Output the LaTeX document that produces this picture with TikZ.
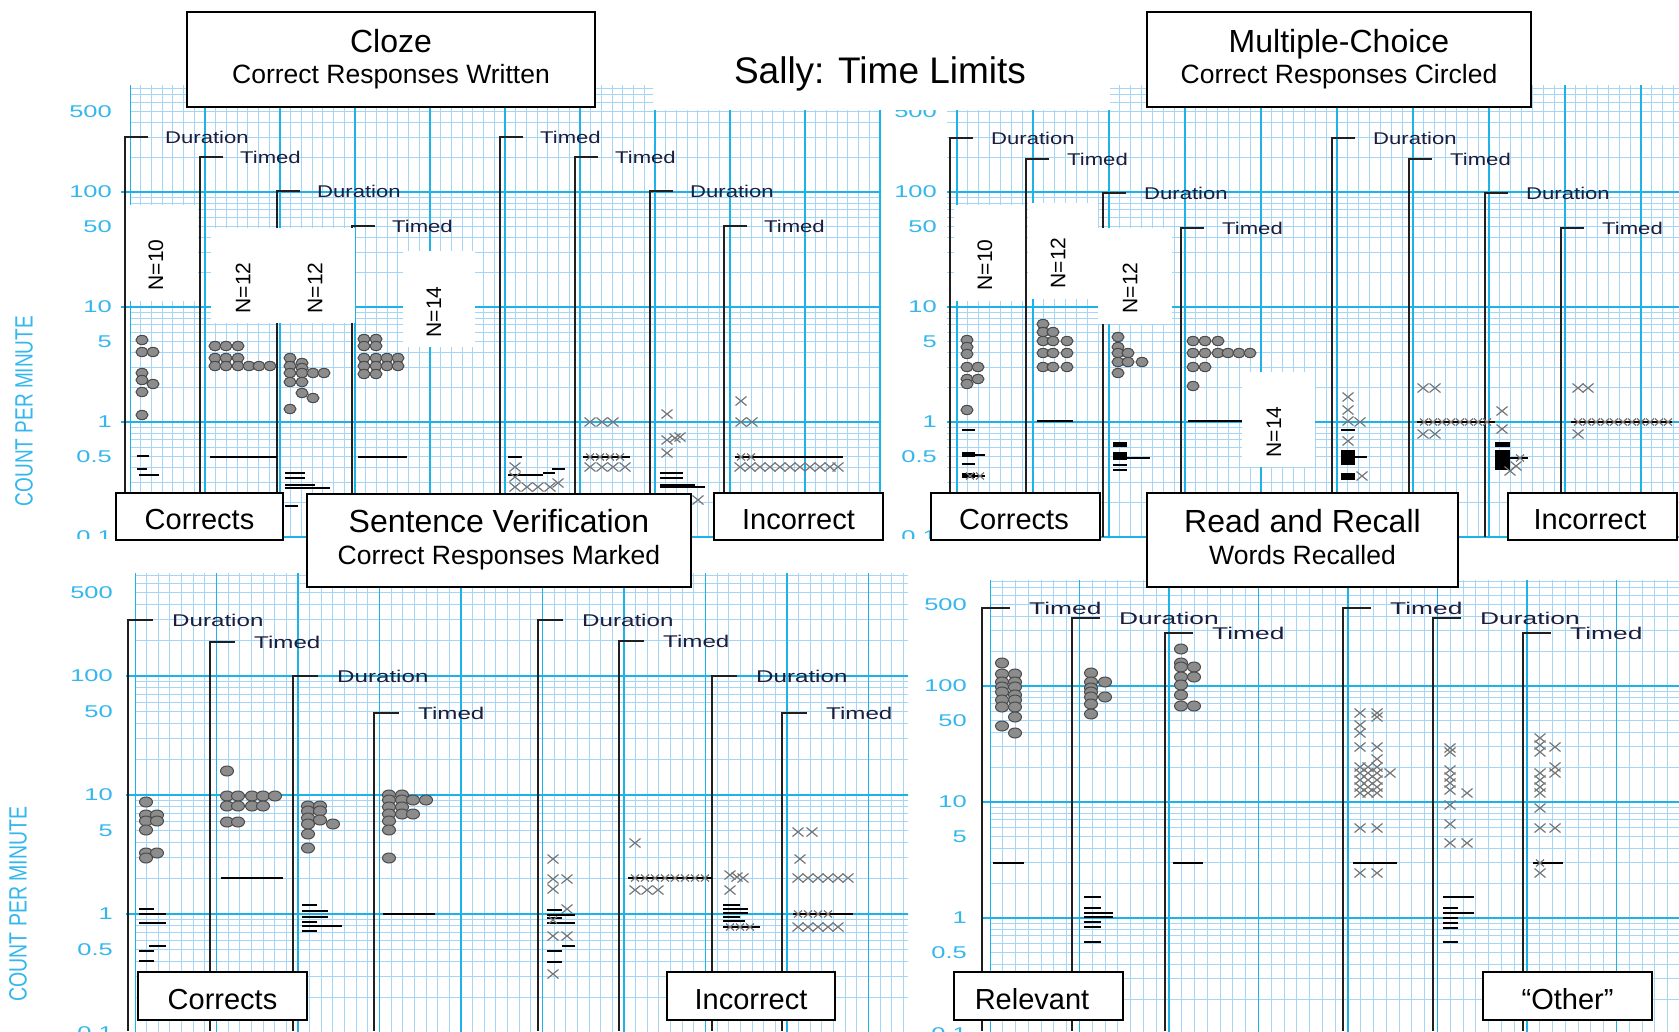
\documentclass[tikz,border=0pt]{standalone}
\usepackage{fontspec}
\setmainfont{Liberation Sans}
\definecolor{gridminor}{HTML}{A6D6F5}
\definecolor{gridmajor}{HTML}{1DB3E8}
\definecolor{axcyan}{HTML}{33B7EC}
\definecolor{labelink}{HTML}{1D1D3D}
\definecolor{dotgrey}{HTML}{8C8C8C}
\definecolor{dotedge}{HTML}{4A4A4A}
\definecolor{crossgrey}{HTML}{777777}
\newcommand\fsz[1]{\fontsize{#1pt}{#1pt}\selectfont}
\newcommand\loggrid[5]{%
 \begin{scope}
  \clip #1;
  \foreach \i in {-7,...,77} {
    \pgfmathsetmacro\xx{#2+\i*#3/7}
    \draw[minorline] (\xx,0) -- (\xx,1040);
  }
  \foreach \d in {-2,...,2} {
    \foreach \k in {2,...,9} {
      \pgfmathsetmacro\yy{#4-#5*(\d+log10(\k))}
      \draw[minorline] (0,\yy) -- (1690,\yy);
    }
  }
  \foreach \i in {-1,...,11} {
    \pgfmathsetmacro\xx{#2+\i*#3}
    \draw[majorline] (\xx,0) -- (\xx,1040);
  }
  \foreach \d in {-2,...,3} {
    \pgfmathsetmacro\yy{#4-#5*\d}
    \draw[majorline] (0,\yy) -- (1690,\yy);
  }
 \end{scope}}
\newcommand\axlabels[5]{% #1 x right, #2 y of 1, #3 decade, #4 prefix, #5 grid left
 \foreach \v/\l [count=\c] in {2.699/500,2/100,1.699/50,1/10,0.699/5,0/1,-0.301/0.5,-1/0.1}{
   \node[axl] (#4\c) at (#1,{#2-#3*(\v)}) {\scalebox{1.5}[1]{\l}};
 }
 \foreach \d in {-1,...,2} {
   \draw[majorline] ({#5-9},{#2-#3*\d}) -- (#5,{#2-#3*\d});
 }}
\newcommand\brackets[6]{% #1 list, #2 ybot, #3 tick, #4 offset, #5 scale, #6 prefix
 \foreach \bx/\by/\bl [count=\c] in {#1} {
   \draw[brk] ({\bx+#3},\by) -- (\bx,\by) -- (\bx,#2);
   \node[lbl, anchor=base west] (#6\c) at ({\bx+#4},{\by+6}) {\scalebox{#5}[1]{\bl}};
 }}
\newcommand\mycirc[2]{\foreach \x/\y in {#2} {\draw[circ] (\x,\y) ellipse [x radius=#1pt, y radius=#1pt*0.77];}}
\newcommand\mycross[1]{\foreach \x/\y in {#1} {\draw[crs] (\x,\y) ++(-5.5,-4.5) -- ++(11,9) ++(0,-9) -- ++(-11,9);}}
\newcommand\mysmall[1]{\foreach \x/\y in {#1} {\draw[crs] (\x,\y) ++(-4,-3.5) -- ++(8,7) ++(0,-7) -- ++(-8,7);}}
\newcommand\mydash[1]{\foreach \a/\b/\y in {#1} {\draw[bar] (\a,\y) -- (\b,\y);}}
\newcommand\myblock[1]{\foreach \a/\b/\cc/\dd in {#1} {\fill[black] (\a,\b) rectangle (\cc,\dd);}}
\begin{document}
\begin{tikzpicture}[x=1pt,y=-1pt,
  minorline/.style={draw=gridminor, line width=1pt},
  majorline/.style={draw=gridmajor, line width=1.8pt},
  brk/.style={draw=black!88, line width=1.8pt},
  lbl/.style={font=\fsz{17}, text=labelink, inner sep=0pt},
  axl/.style={font=\fsz{17}, text=axcyan, anchor=east, inner sep=0pt},
  circ/.style={fill=dotgrey, draw=dotedge, line width=1pt},
  crs/.style={draw=crossgrey, line width=1.2pt},
  bar/.style={draw=black, line width=2.4pt},
  tbox/.style={draw=black, line width=1.8pt, fill=white, inner sep=0pt},
  nbox/.style={fill=white, inner sep=0pt},
  nlbl/.style={font=\fsz{21}, rotate=90, inner sep=0pt},
  ylab/.style={font=\fsz{25}, text=axcyan, rotate=90, inner sep=0pt},
  boxtxt/.style={font=\fsz{29}, inner sep=0pt, anchor=base},
  ttl/.style={font=\fsz{32}, inner sep=0pt, anchor=base},
  subttl/.style={font=\fsz{26.5}, inner sep=0pt, anchor=base}]
\useasboundingbox (0,0) rectangle (1679,1031);
\fill[white] (0,0) rectangle (1679,1031);

% ---------- grids ----------
\loggrid{(130,85) -- (653,85) -- (653,110) -- (881,110) -- (881,538) -- (130,538) -- cycle}{130}{75}{422}{115}
\loggrid{(947,110) -- (1110,110) -- (1110,85) -- (1679,85) -- (1679,538) -- (947,538) -- cycle}{957}{76}{422}{115}
\loggrid{(135,573) rectangle (908,1031)}{135}{81.5}{914}{119}
\loggrid{(990,580) rectangle (1679,1031)}{990}{89.5}{918}{116}

% ---------- axis labels ----------
\begin{scope}
 \clip (0,90) rectangle (131,538);
 \axlabels{112}{422}{115}{axa}{130}
\end{scope}
\begin{scope}
 \clip (882,110) rectangle (957,538);
 \axlabels{937}{422}{115}{axb}{957}
\end{scope}
\axlabels{113}{914}{119}{axc}{135}
\axlabels{967}{918}{116}{axd}{990}
\node[ylab] (yl1) at (24,411) {\scalebox{0.76}[1]{COUNT PER MINUTE}};
\node[ylab] (yl2) at (18,904) {\scalebox{0.78}[1]{COUNT PER MINUTE}};

% ---------- brackets ----------
\brackets{125/137/Duration,200/157/Timed,277/191/Duration,352/226/Timed,500/137/Timed,575/157/Timed,650/191/Duration,724/226/Timed}{537}{23}{40}{1.3}{bra}
\brackets{950/138/Duration,1026/159/Timed,1103/193/Duration,1181/228/Timed,1332/138/Duration,1409/159/Timed,1485/193/Duration,1561/228/Timed}{537}{23}{41}{1.3}{brb}
\brackets{128/620/Duration,210/642/Timed,293/676/Duration,374/713/Timed,538/620/Duration,619/641/Timed,712/676/Duration,782/713/Timed}{1031}{25}{44}{1.42}{brc}
\brackets{982/608/Timed,1072/618/Duration,1165/633/Timed,1343/608/Timed,1433/618/Duration,1523/633/Timed}{1031}{28}{47}{1.55}{brd}

% ---------- N boxes ----------
\fill[white] (127,205) rectangle (198,301);
\fill[white] (211,228) rectangle (355,323);
\fill[white] (403,251) rectangle (475,347);
\fill[white] (954,205) rectangle (1025,301);
\fill[white] (1028,203) rectangle (1098,299);
\fill[white] (1098,228) rectangle (1172,324);
\fill[white] (1242,372) rectangle (1315,467);
\node[nlbl] (n1) at (156,265) {N=10};
\node[nlbl] (n2) at (243,288) {N=12};
\node[nlbl] (n3) at (315,288) {N=12};
\node[nlbl] (n4) at (434,312) {N=14};
\node[nlbl] (n5) at (985,265) {N=10};
\node[nlbl] (n6) at (1058,263) {N=12};
\node[nlbl] (n7) at (1130,288) {N=12};
\node[nlbl] (n8) at (1274,432) {N=14};

% ---------- data: top left ----------
\mycirc{6}{142/340,142/352,153/352,142/373,142/380,153/384,142/392,142/415,
215/346,226/346,238/346,215/358,226/358,238/358,215/366,226/366,238/366,249/366,259/366,270/366,
290/358,302/363,290/366,302/368,290/373,302/373,313/373,324/373,290/382,302/382,302/393,313/398,290/409,
364/339,376/339,364/346,376/346,364/358,376/358,387/358,398/358,364/366,376/366,387/366,398/366,364/374,376/374}
\mydash{137/149/456,137/147/469,139/159/475,210/277/457,
285/305/473,285/305/478,285/315/485,285/330/488,285/298/506,
358/407/457,508/522/457,508/543/475,543/555/473,552/565/469,
660/683/473,660/683/478,660/695/485,660/705/487,583/630/457,735/843/457}
\mycross{515/467,515/477,515/487,527/487,538/487,550/487,558/483,
590/422,602/422,613/422,590/467,602/467,613/467,625/467,
667/414,667/440,675/438,680/437,667/453,698/500,
741/401,741/422,752/422,740/467,750/467,760/467,770/467,780/467,790/467,800/467,810/467,820/467,830/467,838/467}
\mysmall{590/457,600/457,610/457,620/457,741/457,751/457}

% ---------- data: top right ----------
\mycirc{6}{967/340,967/347,967/354,967/367,978/367,967/379,978/379,967/384,967/410,
1043/324,1043/332,1053/332,1043/341,1053/341,1067/341,1043/353,1053/353,1067/353,1043/367,1053/367,1067/367,
1118/337,1118/347,1118/353,1128/353,1118/362,1128/362,1142/362,1118/373,
1193/341,1205/341,1218/341,1193/353,1205/353,1218/353,1228/353,1239/353,1250/353,1193/367,1205/367,1193/386}
\mydash{962/975/430,962/985/455,962/975/464,962/985/476,1037/1073/421,1127/1150/458,1113/1127/465,1113/1127/470,
1188/1242/421,1341/1355/430,1355/1367/457,1417/1495/422,1510/1528/458,1571/1672/422}
\myblock{962/452/975/457,962/473/975/478,1113/442/1127/447,1113/452/1127/460,1341/450/1355/465,1341/473/1355/480,1495/442/1510/447,1495/450/1510/470}
\mycross{1348/397,1348/410,1348/421,1360/422,1348/441,1362/476,1423/388,1435/388,1423/434,1435/434,
1502/411,1502/429,1516/466,1510/471,1578/388,1588/388,1578/434}
\mysmall{1424/422,1433/422,1442/422,1451/422,1460/422,1469/422,1478/422,1487/422,
1578/422,1587/422,1596/422,1605/422,1614/422,1623/422,1632/422,1641/422,1650/422,1659/422,1668/422,970/476,980/476,1520/458}

% ---------- data: bottom left ----------
\mycirc{6.5}{146/802,146/815,157/815,146/821,157/821,146/830,146/853,157/853,146/858,
227/771,227/796,238/796,252/796,263/796,275/796,227/806,238/806,252/806,263/806,227/822,238/822,
308/806,320/806,308/811,320/811,308/818,320/820,333/824,308/824,308/834,308/848,
389/795,402/795,389/800,402/800,413/800,426/800,389/807,402/807,389/814,402/814,413/814,389/821,389/830,389/858}
\mydash{139/154/909,139/166/914,139/166/923,149/166/946,139/154/951,139/154/961,221/283/878,
302/317/905,302/328/911,302/328/917,302/317/922,302/342/926,302/317/931,383/435/914,
547/562/910,547/575/915,547/562/918,547/575/923,562/575/946,547/562/951,547/562/962,628/712/878,
723/740/905,723/748/909,723/748/913,723/740/917,723/745/921,723/760/927,793/853/914}
\mycross{553/859,553/879,567/879,553/889,567/909,553/936,567/936,553/974,635/843,635/890,647/890,658/890,
730/875,737/877,743/878,730/890,798/832,812/832,800/859,798/878,808/878,818/878,828/878,838/878,848/878,
798/927,808/927,818/927,828/927,838/927}
\mysmall{635/878,645/878,655/878,665/878,675/878,685/878,695/878,705/878,798/914,808/914,818/914,828/914,730/927,740/927,750/927,553/920}

% ---------- data: bottom right ----------
\mycirc{6.5}{1002/663,1002/674,1015/674,1002/682,1015/682,1002/687,1015/687,1002/692,1015/695,1002/700,1015/700,1002/707,1015/707,1015/717,1002/726,1015/733,
1091/673,1091/682,1105/682,1091/688,1091/692,1091/697,1105/697,1091/704,1091/714,
1181/649,1181/663,1181/667,1194/667,1181/677,1194/677,1181/685,1181/695,1181/706,1194/706}
\mydash{993/1024/863,1084/1101/897,1084/1101/908,1084/1113/913,1084/1113/917,1084/1101/922,1084/1101/927,1084/1101/942,1173/1203/863,
1353/1397/863,1443/1474/897,1443/1458/908,1443/1474/913,1443/1458/918,1443/1458/923,1443/1458/928,1443/1458/942,1533/1563/863}
\mycross{1360/713,1377/713,1377/717,1360/725,1360/733,1360/747,1377/747,1377/759,
1360/767,1368/767,1377/767,1360/773,1368/773,1377/773,1360/780,1368/780,1377/780,1360/787,1368/787,1377/787,1360/793,1368/793,1377/793,1390/773,
1360/828,1377/828,1360/873,1377/873,
1450/748,1450/752,1450/770,1450/777,1450/783,1450/790,1467/793,1450/805,1450/824,1450/843,1467/843,
1540/738,1540/745,1540/752,1555/747,1555/767,1555/773,1540/773,1540/780,1540/787,1540/793,1540/808,1540/828,1555/828,1540/873}
\mysmall{1540/863}

% ---------- title boxes ----------
\node[tbox, minimum width=408, minimum height=95] (bcloze) at (391,59.5) {};
\node[ttl] (tcloze) at (391,52.5) {Cloze};
\node[subttl] (scloze) at (391,83.5) {Correct Responses Written};
\node[tbox, minimum width=384, minimum height=95] (bmc) at (1339,59.5) {};
\node[ttl] (tmc) at (1339,52.5) {Multiple-Choice};
\node[subttl] (smc) at (1339,83.5) {Correct Responses Circled};
\node[tbox, minimum width=167, minimum height=47] (bc1) at (199.5,516.5) {};
\node[boxtxt] (tc1) at (199.5,529.5) {Corrects};
\node[tbox, minimum width=384, minimum height=93] (bsv) at (499,540.5) {};
\node[ttl] (tsv) at (499,532.5) {Sentence Verification};
\node[subttl] (ssv) at (499,564.5) {Correct Responses Marked};
\node[tbox, minimum width=169, minimum height=47] (bi1) at (798.5,516.5) {};
\node[boxtxt] (ti1) at (798.5,529.5) {Incorrect};
\node[tbox, minimum width=169, minimum height=47] (bc2) at (1015.5,516.5) {};
\node[boxtxt] (tc2) at (1014,529.5) {Corrects};
\node[tbox, minimum width=311, minimum height=94] (brr) at (1302.5,540) {};
\node[ttl] (trr) at (1302.5,532.5) {Read and Recall};
\node[subttl] (srr) at (1302.5,564.5) {Words Recalled};
\node[tbox, minimum width=169, minimum height=47] (bi2) at (1592.5,516.5) {};
\node[boxtxt] (ti2) at (1590,529.5) {Incorrect};
\node[tbox, minimum width=169, minimum height=48] (bc3) at (222.5,996) {};
\node[boxtxt] (tc3) at (222.5,1009) {Corrects};
\node[tbox, minimum width=168, minimum height=48] (bi3) at (751,996) {};
\node[boxtxt] (ti3) at (751,1009) {Incorrect};
\node[tbox, minimum width=169, minimum height=48] (brel) at (1038.5,996) {};
\node[boxtxt] (trel) at (1032,1009) {Relevant};
\node[tbox, minimum width=169, minimum height=48] (both) at (1567.5,996) {};
\node[boxtxt] (toth) at (1567.5,1009) {“Other”};

\node[font=\fsz{37}, inner sep=0pt, anchor=base] (title) at (880,83) {Sally: Time Limits};
\end{tikzpicture}
\end{document}
